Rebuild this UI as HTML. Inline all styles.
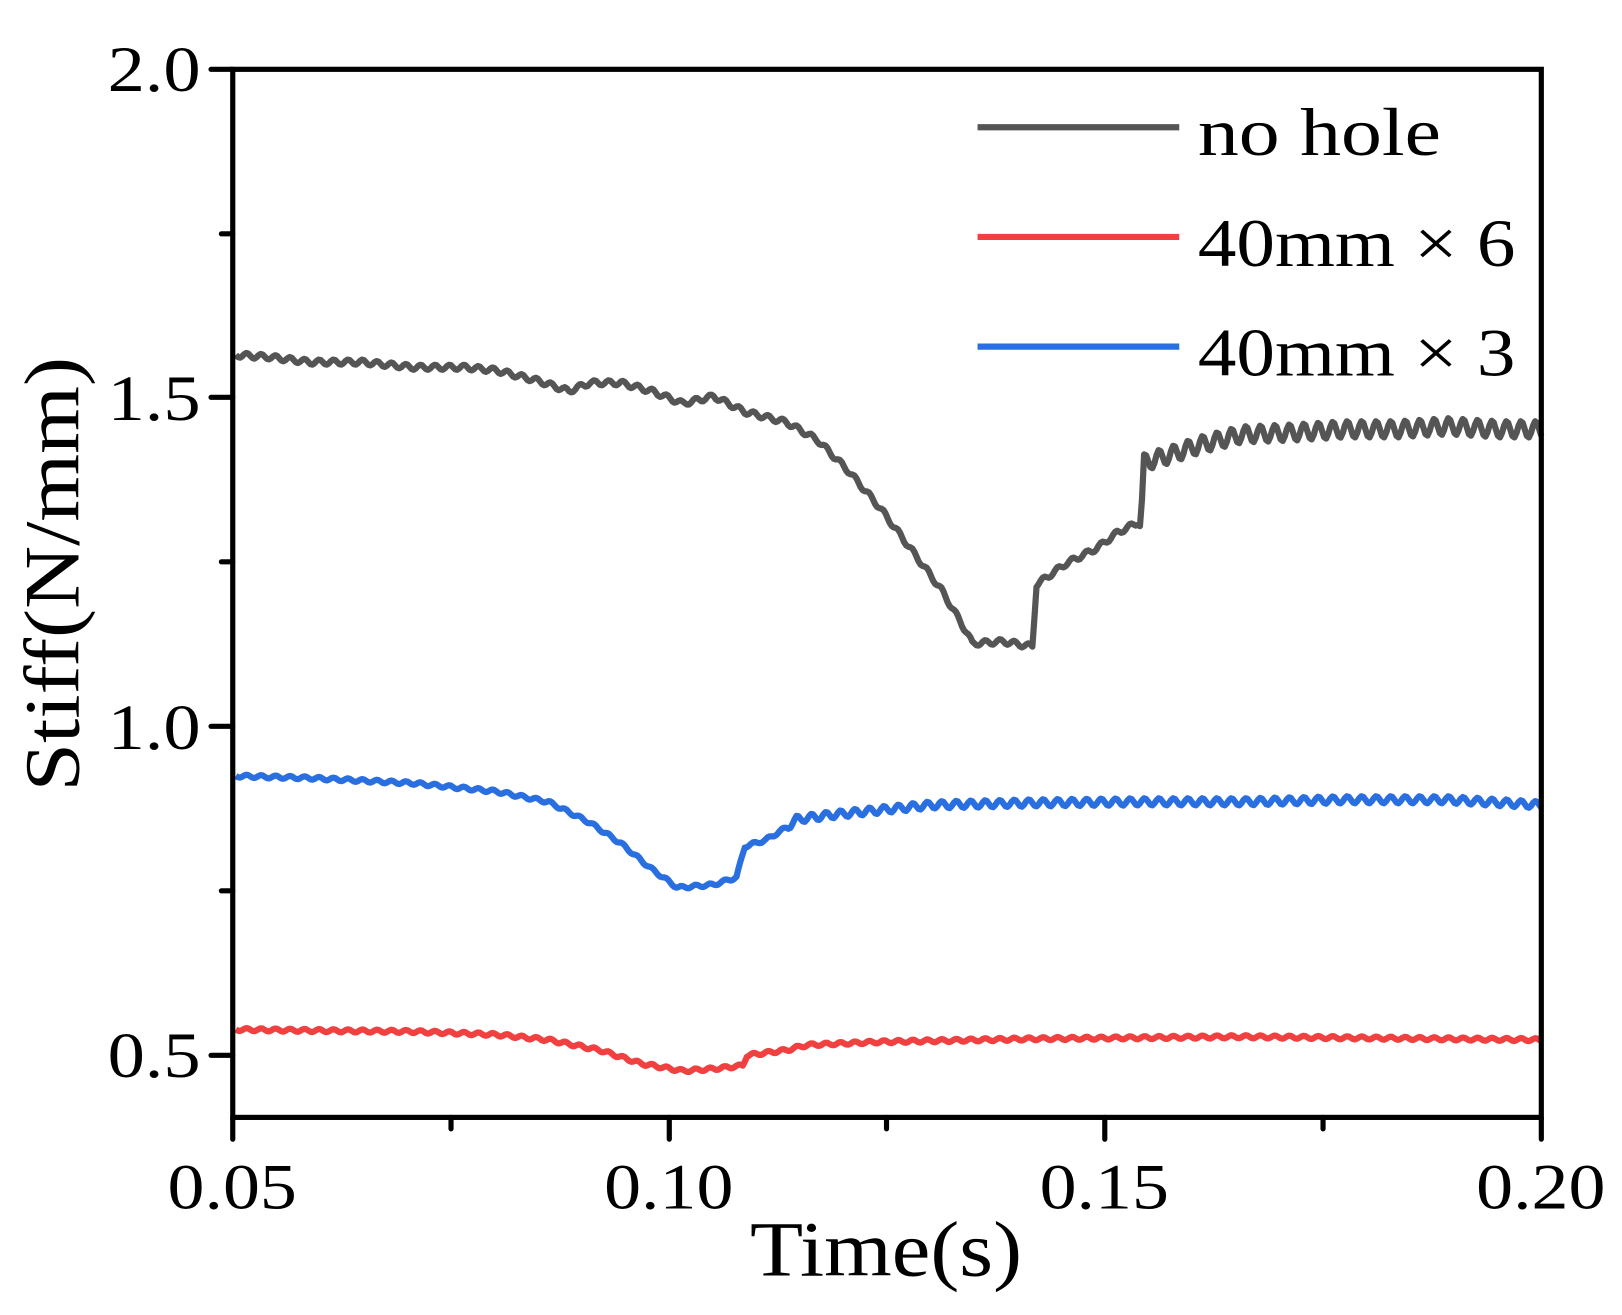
<!DOCTYPE html>
<html><head><style>html,body{margin:0;padding:0;background:#fff}svg{display:block}</style></head>
<body>
<svg width="1622" height="1315" viewBox="0 0 1568 1271" preserveAspectRatio="none" xmlns="http://www.w3.org/2000/svg" font-family="'Liberation Serif', serif">
<g id="lines" fill="none" stroke-width="6" stroke-linejoin="round"></g>
<g stroke="#000" stroke-width="5" fill="none" stroke-linecap="round">
<rect x="225" y="67" width="1265" height="1013"/>
<line x1="204" y1="67" x2="225" y2="67"/><line x1="204" y1="384" x2="225" y2="384"/><line x1="204" y1="702" x2="225" y2="702"/><line x1="204" y1="1020" x2="225" y2="1020"/>
<line x1="214" y1="226" x2="225" y2="226"/><line x1="214" y1="543" x2="225" y2="543"/><line x1="214" y1="861" x2="225" y2="861"/>
<line x1="225" y1="1080" x2="225" y2="1101"/><line x1="647" y1="1080" x2="647" y2="1101"/><line x1="1068" y1="1080" x2="1068" y2="1101"/><line x1="1490" y1="1080" x2="1490" y2="1101"/>
<line x1="436" y1="1080" x2="436" y2="1091"/><line x1="857" y1="1080" x2="857" y2="1091"/><line x1="1279" y1="1080" x2="1279" y2="1091"/>
</g>
<g font-size="62" fill="#000">
<text x="104" y="88" textLength="90" lengthAdjust="spacingAndGlyphs">2.0</text>
<text x="104" y="406" textLength="90" lengthAdjust="spacingAndGlyphs">1.5</text>
<text x="104" y="724" textLength="90" lengthAdjust="spacingAndGlyphs">1.0</text>
<text x="104" y="1041" textLength="90" lengthAdjust="spacingAndGlyphs">0.5</text>
<text x="162" y="1168" textLength="125" lengthAdjust="spacingAndGlyphs">0.05</text>
<text x="584" y="1168" textLength="125" lengthAdjust="spacingAndGlyphs">0.10</text>
<text x="1005" y="1168" textLength="125" lengthAdjust="spacingAndGlyphs">0.15</text>
<text x="1427" y="1168" textLength="125" lengthAdjust="spacingAndGlyphs">0.20</text>
</g>
<text x="725" y="1233" font-size="76" textLength="263" lengthAdjust="spacingAndGlyphs">Time(s)</text>
<text transform="translate(76,765) rotate(-90)" font-size="76" textLength="420" lengthAdjust="spacingAndGlyphs">Stiff(N/mm)</text>
<g stroke-width="6">
<line x1="945" y1="123" x2="1140" y2="123" stroke="#555"/>
<line x1="945" y1="229" x2="1140" y2="229" stroke="#f04040"/>
<line x1="945" y1="335" x2="1140" y2="335" stroke="#2a6fe0"/>
</g>
<g font-size="66" fill="#000">
<text x="1158" y="150" textLength="235" lengthAdjust="spacingAndGlyphs">no hole</text>
<text x="1158" y="257" textLength="307" lengthAdjust="spacingAndGlyphs">40mm × 6</text>
<text x="1158" y="363" textLength="307" lengthAdjust="spacingAndGlyphs">40mm × 3</text>
</g>
</svg>
<script>
function interp(pts,x){for(var i=0;i<pts.length-1;i++){if(x<=pts[i+1][0]){var a=pts[i],b=pts[i+1];return a[1]+(b[1]-a[1])*(x-a[0])/(b[0]-a[0]);}}return pts[pts.length-1][1];}
function mk(pts,amp,col){var d="";for(var x=228;x<=1490;x+=2){var t=(x-228);var a=typeof amp=="function"?amp(x):amp;var y=interp(pts,x)+a*Math.sin(t*2*Math.PI/14);d+=(d?"L":"M")+x+","+y.toFixed(1);}
var p=document.createElementNS("http://www.w3.org/2000/svg","path");p.setAttribute("d",d);p.setAttribute("stroke",col);document.getElementById("lines").appendChild(p);}
mk([[228,343],[260,345],[300,350],[350,350],[400,355],[450,355],[480,358],[520,368],[550,378],[570,370],[600,370],[630,378],[660,390],[690,383],[720,398],[760,408],[790,425],[820,455],[850,490],[880,530],[910,570],[935,612],[940,622],[970,620],[998,625],[1002,565],[1030,545],[1060,530],[1080,515],[1100,505],[1103,505],[1106,447],[1130,440],[1160,430],[1200,420],[1250,418],[1300,415],[1350,415],[1400,412],[1450,415],[1490,415]],function(x){return x>1100?8:2.5;},"#555");
mk([[228,750],[300,752],[400,757],[480,765],[530,775],[570,795],[600,815],[630,840],[655,858],[690,855],[712,848],[720,818],[740,812],[760,800],[770,792],[800,788],[850,783],[900,778],[1000,776],[1100,775],[1200,775],[1300,773],[1400,773],[1490,778]],function(x){return x>760?3.5:1.5;},"#2a6fe0");
mk([[228,995],[300,996],[400,997],[480,1000],[530,1005],[580,1015],[620,1028],[660,1035],[690,1033],[718,1030],[722,1020],[760,1015],[780,1010],[850,1007],[1000,1004],[1200,1002],[1490,1005]],1.5,"#f04040");
</script>
</body></html>
